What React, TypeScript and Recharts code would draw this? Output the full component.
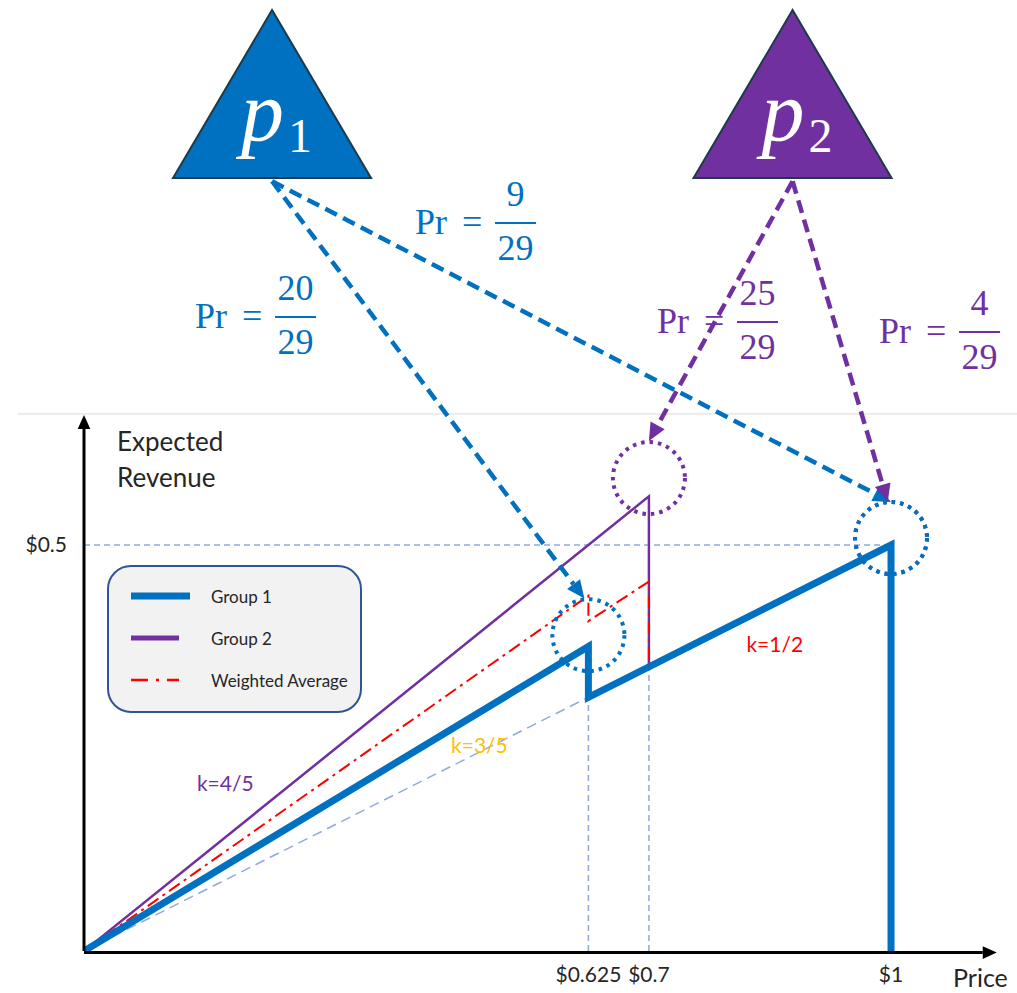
import React from 'react';
import { LineChart, Line, XAxis, YAxis, ReferenceLine, ReferenceDot, Legend, Label } from 'recharts';

const BLUE = '#0070C0';
const PURPLE = '#7030A0';
const RED = '#FF0000';
const GOLD = '#FFC000';
const GUIDE = '#8FAADC';
const INK = '#262626';
const SANS = 'Lato, "Open Sans", sans-serif';
const SERIF = '"Liberation Serif", "DejaVu Serif", serif';

// expected revenue (price x share of buyers) at each breakpoint
const group1 = [
  { price: 0, revenue: 0 },
  { price: 0.625, revenue: 0.375 },
  { price: 0.625, revenue: 0.3125 },
  { price: 1, revenue: 0.5 },
  { price: 1, revenue: 0 },
];
const group2 = [
  { price: 0, revenue: 0 },
  { price: 0.7, revenue: 0.56 },
  { price: 0.7, revenue: 0.35 },
  { price: 1, revenue: 0.5 },
  { price: 1, revenue: 0 },
];
const weightedAvg = [
  { price: 0, revenue: 0 },
  { price: 0.625, revenue: 0.4375 },
  { price: 0.625, revenue: 0.40625 },
  { price: 0.7, revenue: 0.455 },
  { price: 0.7, revenue: 0.35 },
  { price: 1, revenue: 0.5 },
  { price: 1, revenue: 0 },
];
const priceTicks = [0.625, 0.7, 1];
const revenueTicks = [0.5];

const slopeLabels = [
  { text: 'k=4/5', price: 0.175, revenue: 0.207, color: PURPLE },
  { text: 'k=3/5', price: 0.49, revenue: 0.254, color: GOLD },
  { text: 'k=1/2', price: 0.856, revenue: 0.379, color: RED },
];

// the two players and where their price choices land
const players = [
  { sub: '1', price: 0.233, color: BLUE },
  { sub: '2', price: 0.878, color: PURPLE },
];
const targets = [
  { price: 0.625, revenue: 0.389, color: BLUE },
  { price: 0.7, revenue: 0.5825, color: PURPLE },
  { price: 1, revenue: 0.5086, color: PURPLE },
  { price: 1, revenue: 0.5086, color: BLUE },
];
const choices = [
  { player: 0, to: [0.62, 0.434], num: '20', den: '29', at: [0.2367, 0.7808] },
  { player: 0, to: [1.0, 0.553], num: '9', den: '29', at: [0.5093, 0.8966] },
  { player: 1, to: [0.7, 0.628], num: '25', den: '29', at: [0.8092, 0.7746] },
  { player: 1, to: [0.996, 0.553], num: '4', den: '29', at: [1.0843, 0.7623] },
];

const X_MAX = 1.1561;
const Y_MAX = 1.1712;
const TRI_BASE = 0.952;

const legendStyle: Record<string, { color: string; width: number; len: number; dash?: string }> = {
  'Group 1': { color: BLUE, width: 7, len: 59 },
  'Group 2': { color: PURPLE, width: 5, len: 48 },
  'Weighted Average': { color: RED, width: 2.5, len: 48, dash: '17 8 3 8' },
};
const legendOrder = ['Group 1', 'Group 2', 'Weighted Average'];

const arrowShape = (color: string, width: number, dash: string | undefined, head: number) => (props: any) => {
  const { x1, y1, x2, y2 } = props;
  const len = Math.hypot(x2 - x1, y2 - y1) || 1;
  const ux = (x2 - x1) / len;
  const uy = (y2 - y1) / len;
  const bx = x2 - ux * head;
  const by = y2 - uy * head;
  const hw = head * 0.45;
  const pts = `${x2},${y2} ${bx - uy * hw},${by + ux * hw} ${bx + uy * hw},${by - ux * hw}`;
  return (
    <g>
      <line x1={x1} y1={y1} x2={bx} y2={by} stroke={color} strokeWidth={width} strokeDasharray={dash} />
      <polygon points={pts} fill={color} />
    </g>
  );
};

const triangleShape = (sub: string, color: string) => (props: any) => {
  const { cx, cy } = props;
  return (
    <g>
      <polygon
        points={`${cx},${cy - 168} ${cx - 99},${cy} ${cx + 99},${cy}`}
        fill={color}
        stroke="#1E3A48"
        strokeWidth={2}
      />
      <text x={cx - 31} y={cy - 38} fill="#fff" fontFamily={SERIF} fontStyle="italic" fontSize={86}>
        p
      </text>
      <text x={cx + 16} y={cy - 26} fill="#fff" fontFamily={SERIF} fontSize={48}>
        {sub}
      </text>
    </g>
  );
};

const fractionShape = (num: string, den: string, color: string) => (props: any) => {
  const { cx, cy } = props;
  return (
    <g fill={color} fontFamily={SERIF} fontSize={36}>
      <text x={cx - 80} y={cy + 11}>Pr</text>
      <text x={cx - 33} y={cy + 11}>=</text>
      <line x1={cx} y1={cy} x2={cx + 41} y2={cy} stroke={color} strokeWidth={2} />
      <text x={cx + 20.5} y={cy - 17} textAnchor="middle">{num}</text>
      <text x={cx + 20.5} y={cy + 37} textAnchor="middle">{den}</text>
    </g>
  );
};

const circleShape = (color: string) => (props: any) => (
  <circle cx={props.cx} cy={props.cy} r={36} fill="none" stroke={color} strokeWidth={4} strokeDasharray="3.5 5" />
);

const textShape = (text: string, color: string) => (props: any) => (
  <text x={props.cx} y={props.cy} fill={color} fontFamily={SANS} fontSize={21} textAnchor="middle" dominantBaseline="central">
    {text}
  </text>
);

const renderLegend = (props: any) => {
  const items = [...(props.payload || [])].sort(
    (a: any, b: any) => legendOrder.indexOf(a.value) - legendOrder.indexOf(b.value),
  );
  return (
    <div
      style={{
        width: 255,
        height: 148,
        boxSizing: 'border-box',
        border: '2px solid #2F5597',
        borderRadius: 24,
        background: '#F2F2F2',
      }}
    >
      <svg width={251} height={144} style={{ display: 'block' }}>
        {items.map((entry: any, i: number) => {
          const s = legendStyle[entry.value];
          const y = 29 + i * 42;
          return (
            <g key={entry.value}>
              <line x1={22} y1={y} x2={22 + s.len} y2={y} stroke={s.color} strokeWidth={s.width} strokeDasharray={s.dash} />
              <text x={102} y={y} dominantBaseline="central" fontFamily={SANS} fontSize={17} fill={INK}>
                {entry.value}
              </text>
            </g>
          );
        })}
      </svg>
    </div>
  );
};

export default function App() {
  const dropG1 = group1[2];
  const dropG2 = group2[2];
  const top = group1[3];

  return (
    <div style={{ position: 'absolute', left: 0, top: 0, width: 1017, height: 993, background: '#fff' }}>
      <LineChart width={1017} height={993} margin={{ top: 0, right: 0, bottom: 0, left: 0 }}>
        <XAxis
          dataKey="price"
          type="number"
          domain={[0, X_MAX]}
          allowDataOverflow
          ticks={priceTicks}
          interval={0}
          tickFormatter={(v: number) => `$${v}`}
          axisLine={false}
          tickLine={false}
          tickMargin={10}
          height={42}
          tick={{ fontSize: 21, fill: INK, fontFamily: SANS }}
        >
          <Label
            content={(p: any) => (
              <text x={p.viewBox.x + p.viewBox.width - 64} y={p.viewBox.y + 36} fontFamily={SANS} fontSize={25} fill={INK}>
                Price
              </text>
            )}
          />
        </XAxis>
        <YAxis
          type="number"
          domain={[0, Y_MAX]}
          allowDataOverflow
          ticks={revenueTicks}
          tickFormatter={(v: number) => `$${v}`}
          axisLine={false}
          tickLine={false}
          tickMargin={11}
          width={84}
          tick={{ fontSize: 21, fill: INK, fontFamily: SANS }}
        >
          <Label
            content={(p: any) => (
              <text fontFamily={SANS} fontSize={26} fill={INK}>
                <tspan x={p.viewBox.x + p.viewBox.width + 33} y={451}>Expected</tspan>
                <tspan x={p.viewBox.x + p.viewBox.width + 33} y={487}>Revenue</tspan>
              </text>
            )}
          />
        </YAxis>

        {/* divider between the players and the revenue plot */}
        <ReferenceLine
          segment={[{ x: -0.082, y: 0.6614 }, { x: X_MAX, y: 0.6614 }]}
          stroke="#D9D9D9"
          strokeWidth={1}
          ifOverflow="visible"
        />

        {/* guides */}
        <ReferenceLine segment={[{ x: 0, y: top.revenue }, { x: top.price, y: top.revenue }]} stroke={GUIDE} strokeWidth={1.5} strokeDasharray="6 4" ifOverflow="visible" />
        <ReferenceLine segment={[{ x: dropG1.price, y: 0 }, { x: dropG1.price, y: dropG1.revenue }]} stroke={GUIDE} strokeWidth={1.5} strokeDasharray="6 4" ifOverflow="visible" />
        <ReferenceLine segment={[{ x: dropG2.price, y: 0 }, { x: dropG2.price, y: dropG2.revenue }]} stroke={GUIDE} strokeWidth={1.5} strokeDasharray="6 4" ifOverflow="visible" />
        <ReferenceLine segment={[{ x: 0, y: 0 }, { x: dropG1.price, y: dropG1.revenue }]} stroke={GUIDE} strokeWidth={1.5} strokeDasharray="10 6" ifOverflow="visible" />

        <Line data={group2} dataKey="revenue" name="Group 2" stroke={PURPLE} strokeWidth={2.5} dot={false} activeDot={false} isAnimationActive={false} />
        <Line data={weightedAvg} dataKey="revenue" name="Weighted Average" stroke={RED} strokeWidth={2} strokeDasharray="13 5 3 5" dot={false} activeDot={false} isAnimationActive={false} />
        <Line data={group1} dataKey="revenue" name="Group 1" stroke={BLUE} strokeWidth={7} dot={false} activeDot={false} isAnimationActive={false} />

        {/* axes with arrow heads */}
        <ReferenceLine segment={[{ x: 0, y: 0 }, { x: 0, y: 0.66 }]} shape={arrowShape('#000', 3, undefined, 14)} ifOverflow="visible" />
        <ReferenceLine segment={[{ x: 0, y: -0.002 }, { x: 1.131, y: -0.002 }]} shape={arrowShape('#000', 3, undefined, 14)} ifOverflow="visible" />

        {slopeLabels.map((s) => (
          <ReferenceDot key={s.text} x={s.price} y={s.revenue} shape={textShape(s.text, s.color)} ifOverflow="visible" />
        ))}

        {targets.map((t, i) => (
          <ReferenceDot key={`t${i}`} x={t.price} y={t.revenue} shape={circleShape(t.color)} ifOverflow="visible" />
        ))}

        {players.map((p) => (
          <ReferenceDot key={`p${p.sub}`} x={p.price} y={TRI_BASE} shape={triangleShape(p.sub, p.color)} ifOverflow="visible" />
        ))}

        {choices.map((c, i) => {
          const p = players[c.player];
          return (
            <ReferenceLine
              key={`a${i}`}
              segment={[{ x: p.price, y: TRI_BASE - 0.004 }, { x: c.to[0], y: c.to[1] }]}
              shape={arrowShape(p.color, 4.5, '13 7', 18)}
              ifOverflow="visible"
            />
          );
        })}

        {choices.map((c, i) => (
          <ReferenceDot
            key={`f${i}`}
            x={c.at[0]}
            y={c.at[1]}
            shape={fractionShape(c.num, c.den, players[c.player].color)}
            ifOverflow="visible"
          />
        ))}

        <Legend
          layout="vertical"
          align="center"
          verticalAlign="middle"
          content={renderLegend}
          wrapperStyle={{ left: 107, top: 565, width: 255, height: 148 }}
        />
      </LineChart>
    </div>
  );
}
